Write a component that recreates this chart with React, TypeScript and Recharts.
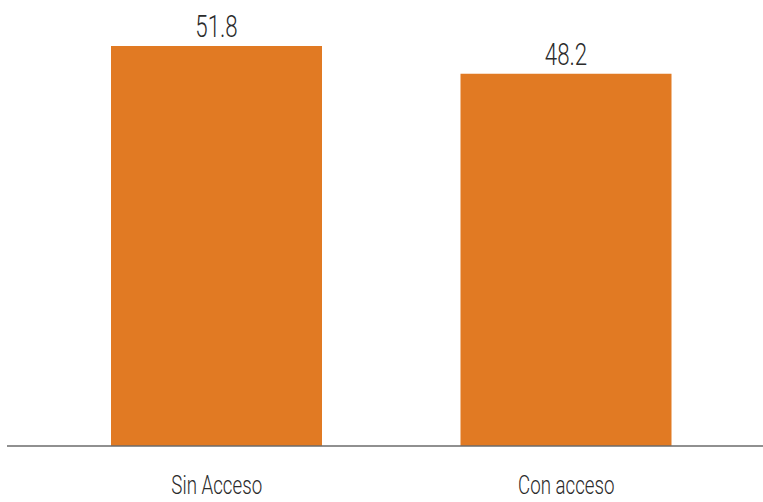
import { Bar, BarChart, LabelList, XAxis, YAxis } from "recharts"

const categories = ["Sin Acceso", "Con acceso"]
const values = [51.8, 48.2]

const data = categories.map((name, i) => ({ name, value: values[i] }))

const FONT = "Roboto, 'Noto Sans', sans-serif"
const SQUEEZE = 0.72

// the source uses a light condensed face; squeeze Roboto Light horizontally
const CategoryTick = ({ x, y, payload }: any) => (
  <text
    transform={`translate(${x},${y + 48}) scale(${SQUEEZE},1)`}
    textAnchor="middle"
    fill="#2b2b2b"
    fontSize={26}
    fontWeight={300}
    fontFamily={FONT}
  >
    {payload.value}
  </text>
)

const ValueLabel = ({ x, y, width, value }: any) => (
  <text
    transform={`translate(${x + width / 2},${y - 9}) scale(${SQUEEZE},1)`}
    textAnchor="middle"
    fill="#2b2b2b"
    fontSize={31}
    fontWeight={300}
    fontFamily={FONT}
  >
    {Number(value).toFixed(1)}
  </text>
)

export default function App() {
  return (
    <div style={{ position: "absolute", left: 0, top: 0, width: 763, height: 502, background: "#fff" }}>
      <BarChart
        width={763}
        height={502}
        data={data}
        margin={{ top: 46, right: 0, left: 7, bottom: 0 }}
      >
        <XAxis
          dataKey="name"
          height={56}
          padding={{ left: 35, right: 22 }}
          tickLine={false}
          tickSize={0}
          tickMargin={0}
          axisLine={{ stroke: "#6b6b6b", strokeWidth: 1.5 }}
          tick={<CategoryTick />}
        />
        <YAxis hide domain={[0, "dataMax"]} />
        <Bar dataKey="value" fill="#E17A23" barSize={211} isAnimationActive={false}>
          <LabelList dataKey="value" content={<ValueLabel />} />
        </Bar>
      </BarChart>
    </div>
  )
}
